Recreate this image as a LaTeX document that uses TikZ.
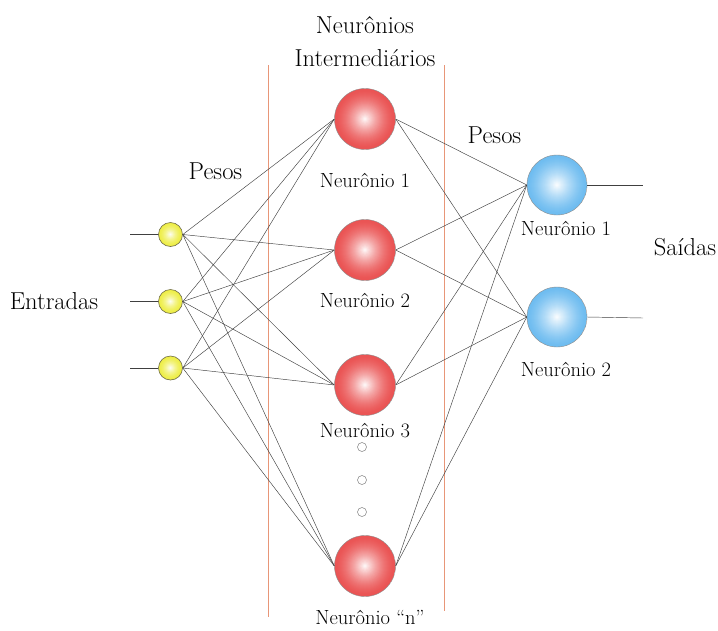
\documentclass[tikz,border=0pt]{standalone}
\usepackage{fontspec}
\definecolor{hred}{RGB}{234,84,84}
\definecolor{hblue}{RGB}{110,188,240}
\definecolor{hyel}{RGB}{238,238,70}
\definecolor{sepc}{RGB}{232,150,120}
\begin{document}
\begin{tikzpicture}[x=1pt,y=-1pt,
  ballfill/.style n args={3}{path picture={
    \foreach \k in {0,...,29}{
      \pgfmathsetmacro\rr{#2*(1-\k/30)}
      \pgfmathsetmacro\mm{100*(1-(\k/30)^#3)}
      \fill[#1!\mm!white] (path picture bounding box.center) circle[radius=\rr pt];
    }}},
  hid/.style={circle,minimum size=61pt,inner sep=0pt,ballfill={hred}{30.5}{1.6},draw=black!45,line width=0.4pt},
  outn/.style={circle,minimum size=60pt,inner sep=0pt,ballfill={hblue}{30}{1.4},draw=black!45,line width=0.4pt},
  inn/.style={circle,minimum size=24pt,inner sep=0pt,ballfill={hyel}{12}{1.6},draw=black!50!yellow!70!black,line width=0.6pt},
  dotn/.style={circle,minimum size=9pt,inner sep=0pt,draw=black!50,line width=0.5pt},
  conn/.style={draw=black!75,line width=0.45pt},
  sep/.style={draw=sepc,line width=0.7pt},
  lab/.style={font=\fontsize{20.5}{24}\selectfont,text=black,inner sep=0pt},
  big/.style={font=\fontsize{24.5}{30}\selectfont,text=black,inner sep=0pt}]
\useasboundingbox[fill=white] (0,0) rectangle (718,630);
% separators
\coordinate (s1t) at (268,65); \coordinate (s1b) at (268,617);
\coordinate (s2t) at (444,65); \coordinate (s2b) at (444,611);
\draw[sep] (s1t) -- (s1b);
\draw[sep] (s2t) -- (s2b);
% nodes
\node[inn] (in1) at (170.5,234.5) {};
\node[inn] (in2) at (170.5,301.5) {};
\node[inn] (in3) at (170.5,368) {};
\node[hid] (h1) at (365,119) {};
\node[hid] (h2) at (365,250) {};
\node[hid] (h3) at (365,385) {};
\node[hid] (h4) at (365,566) {};
\node[outn] (o1) at (557,185) {};
\node[outn] (o2) at (557,317) {};
\node[dotn] (d1) at (362,447) {};
\node[dotn] (d2) at (362,480) {};
\node[dotn] (d3) at (362,512) {};
% connections
\foreach \i in {1,2,3}{\foreach \h in {1,2,3,4}{\draw[conn] (in\i.east) -- (h\h.west);}}
\foreach \h in {1,2,3,4}{\foreach \o in {1,2}{\draw[conn] (h\h.east) -- (o\o.west);}}
\coordinate (a1) at (130,234.5); \coordinate (a2) at (130,301.5); \coordinate (a3) at (130,368);
\draw[conn] (a1) -- (in1.west);
\draw[conn] (a2) -- (in2.west);
\draw[conn] (a3) -- (in3.west);
\coordinate (b1) at (643,185); \coordinate (b2) at (643,318);
\draw[conn] (o1.east) -- (b1);
\draw[conn] (o2.east) -- (b2);
% labels
\node[lab] (lh1) at (365,180) {Neurônio 1};
\node[lab] (lh2) at (365,300) {Neurônio 2};
\node[lab] (lh3) at (365,431) {Neurônio 3};
\node[lab] (lh4) at (370,617) {Neurônio “n”};
\node[lab] (lo1) at (566,228) {Neurônio 1};
\node[lab] (lo2) at (566,369) {Neurônio 2};
\node[big] (tEnt) at (54,301) {Entradas};
\node[big] (tSai) at (685,247) {Saídas};
\node[big] (tP1) at (215.5,171) {Pesos};
\node[big] (tP2) at (494.5,135) {Pesos};
\node[big] (tN1) at (365,25) {Neurônios};
\node[big] (tN2) at (365,58) {Intermediários};
\end{tikzpicture}
\end{document}
